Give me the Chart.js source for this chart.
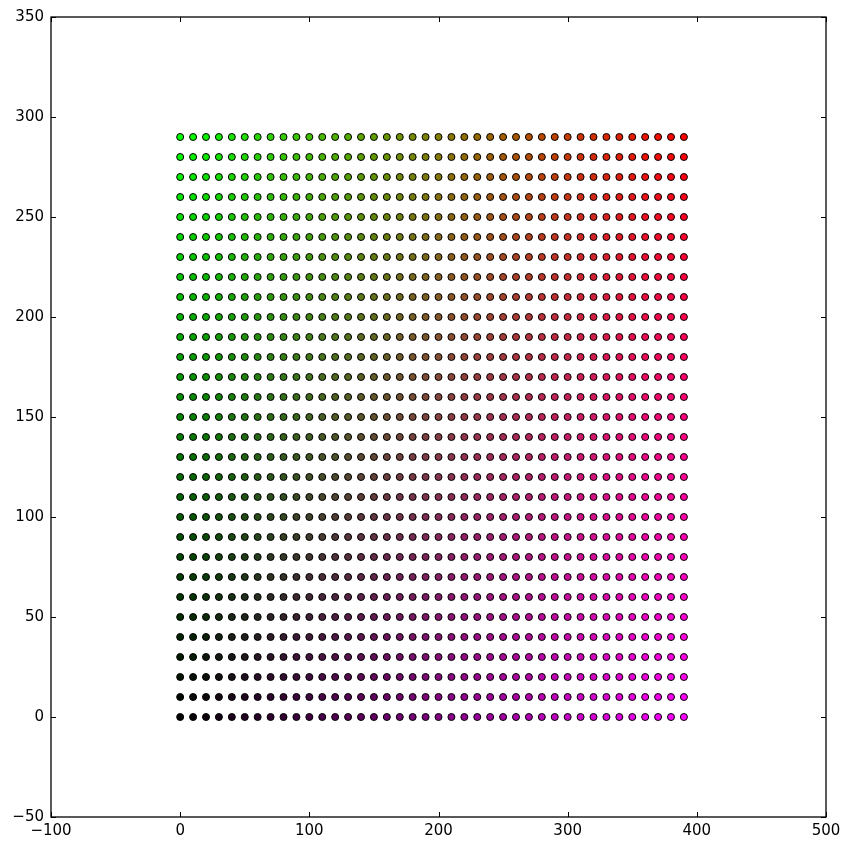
<!DOCTYPE html>
<html>
<head>
<meta charset="utf-8">
<script src="https://cdn.jsdelivr.net/npm/chart.js@4"></script>
<style>
  html, body { margin: 0; padding: 0; background: #fff; }
  #wrap { width: 851px; height: 848px; }
</style>
</head>
<body>
<div id="wrap"><canvas id="gridChart" width="851" height="848"></canvas></div>
<script>
// Valeurs de la grille
const xValues = [0, 10, 20, 30, 40, 50, 60, 70, 80, 90, 100, 110, 120, 130, 140, 150, 160, 170, 180, 190,
                 200, 210, 220, 230, 240, 250, 260, 270, 280, 290, 300, 310, 320, 330, 340, 350, 360, 370, 380, 390];
const yValues = [0, 10, 20, 30, 40, 50, 60, 70, 80, 90, 100, 110, 120, 130, 140,
                 150, 160, 170, 180, 190, 200, 210, 220, 230, 240, 250, 260, 270, 280, 290];
const xTicks = [-100, 0, 100, 200, 300, 400, 500];
const yTicks = [-50, 0, 50, 100, 150, 200, 250, 300, 350];

const points = [];
yValues.forEach(y => {
    xValues.forEach(x => points.push({ x: x, y: y }));
});

const xMax = xValues[xValues.length - 1];
const yMax = yValues[yValues.length - 1];

// couleur de chaque point : noir -> vert (haut), magenta (droite), rouge (coin)
function pointColor(ctx) {
    const p = ctx.raw;
    if (!p) return '#000';
    const u = p.x / xMax;
    const v = p.y / yMax;
    const r = Math.round(255 * u);
    const g = Math.round(255 * v * (1 - u));
    const b = Math.round(255 * u * (1 - v));
    return 'rgb(' + r + ',' + g + ',' + b + ')';
}

function fmt(v) {
    return v < 0 ? '\u2212' + Math.abs(v) : String(v);
}

// cadre + graduations intérieures façon matplotlib
const frameTicks = {
    id: 'frameTicks',
    afterDraw(chart) {
        const { ctx, chartArea: a, scales } = chart;
        ctx.save();
        ctx.strokeStyle = '#000';
        ctx.lineWidth = 1;
        ctx.beginPath();
        xTicks.forEach(t => {
            const px = Math.round(scales.x.getPixelForValue(t)) + 0.5;
            ctx.moveTo(px, a.bottom); ctx.lineTo(px, a.bottom - 5);
            ctx.moveTo(px, a.top); ctx.lineTo(px, a.top + 5);
        });
        yTicks.forEach(t => {
            const py = Math.round(scales.y.getPixelForValue(t)) + 0.5;
            ctx.moveTo(a.left, py); ctx.lineTo(a.left + 5, py);
            ctx.moveTo(a.right, py); ctx.lineTo(a.right - 5, py);
        });
        ctx.stroke();
        ctx.lineWidth = 1.3;
        ctx.strokeRect(a.left, a.top, a.right - a.left, a.bottom - a.top);
        ctx.restore();
    }
};

new Chart(document.getElementById('gridChart'), {
    type: 'scatter',
    data: {
        datasets: [{
            data: points,
            pointRadius: 3.5,
            pointHoverRadius: 3.5,
            pointBorderWidth: 1,
            pointBorderColor: '#000',
            pointBackgroundColor: pointColor
        }]
    },
    options: {
        responsive: false,
        animation: false,
        layout: { padding: { top: 17, right: 25, left: 0, bottom: 0 } },
        plugins: {
            legend: { display: false },
            tooltip: { enabled: false }
        },
        scales: {
            x: {
                type: 'linear',
                min: -100,
                max: 500,
                afterFit: s => { s.height = 31; },
                afterBuildTicks: s => { s.ticks = xTicks.map(v => ({ value: v })); },
                grid: { display: false, drawTicks: false },
                border: { display: false },
                ticks: {
                    padding: 5,
                    color: '#000',
                    maxRotation: 0,
                    font: { family: 'DejaVu Sans', size: 15 },
                    callback: v => fmt(v)
                }
            },
            y: {
                type: 'linear',
                min: -50,
                max: 350,
                afterFit: s => { s.width = 51; },
                afterBuildTicks: s => { s.ticks = yTicks.map(v => ({ value: v })); },
                grid: { display: false, drawTicks: false },
                border: { display: false },
                ticks: {
                    padding: 7,
                    color: '#000',
                    font: { family: 'DejaVu Sans', size: 15 },
                    callback: v => fmt(v)
                }
            }
        }
    },
    plugins: [frameTicks]
});
</script>
</body>
</html>
